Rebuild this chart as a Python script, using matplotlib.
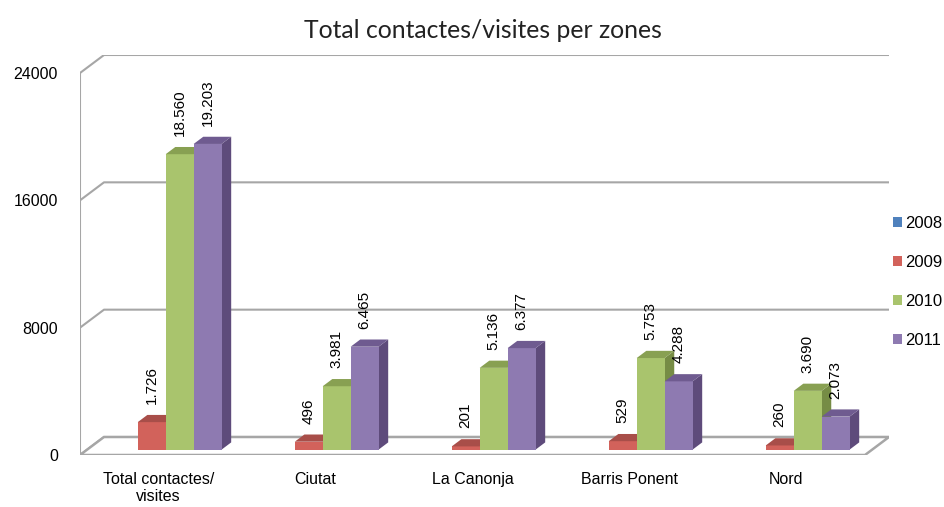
import matplotlib
matplotlib.use("Agg")
import matplotlib.pyplot as plt
from matplotlib.patches import Polygon, Patch

# ----------- DATA ----------- #
zones = ['Total contactes/\nvisites', 'Ciutat', 'La Canonja', 'Barris Ponent', 'Nord']
years = ['2008', '2009', '2010', '2011']
v2008 = [0, 0, 0, 0, 0]
v2009 = [1726, 496, 201, 529, 260]
v2010 = [18560, 3981, 5136, 5753, 3690]
v2011 = [19203, 6465, 6377, 4288, 2073]
series = [v2008, v2009, v2010, v2011]
yticks = [0, 8000, 16000, 24000]

# front / top / side shades per year
front = ['#4F81BD', '#D2625B', '#A9C46D', '#8E7AB1']
top = ['#3C6494', '#A84E49', '#88A052', '#6F5B90']
side = ['#34577F', '#8E3F3B', '#768C45', '#5E4B7B']

plt.rcParams['font.family'] = ['Liberation Sans', 'DejaVu Sans']
grid_col = '#A6A6A6'

# ----------- FAKE 3D GEOMETRY ----------- #
ymax = 24000
ddx = 24 / 157.0          # depth shift in category units
ddy = 18 * ymax / 382.0   # depth shift in value units
w = 0.178                 # bar width
f0, bd = 0.3, 0.4         # bar front depth and bar depth (fractions)

W, H = 944, 507
fig = plt.figure(figsize=(W / 100, H / 100), dpi=100)
ax = fig.add_axes([80 / W, (H - 455) / H,
                   785 / W * (5 + ddx) / 5,
                   382 / H * (ymax + ddy) / ymax])
ax.set_xlim(-0.5, 4.5 + ddx)
ax.set_ylim(0, ymax + ddy)
ax.patch.set_visible(False)

# walls + gridlines
x0 = -0.5
for v in yticks:
    ax.plot([x0, x0 + ddx, 4.5 + ddx], [v, v + ddy, v + ddy],
            color=grid_col, lw=1.5, zorder=1, solid_capstyle='butt')
# floor
ax.add_patch(Polygon([(x0, 0), (4.5, 0), (4.5 + ddx, ddy), (x0 + ddx, ddy)],
                     closed=True, facecolor='white', edgecolor=grid_col,
                     lw=1.8, zorder=2))
ax.plot([x0, x0], [0, ymax], color=grid_col, lw=1.5, zorder=2)

# bars
z = 3
base = f0 * ddy
for c in range(len(zones)):
    for i, vals in enumerate(series):
        v = vals[c]
        if v <= 0:
            continue
        xl = c + (i - 2) * w + f0 * ddx
        xr = xl + w
        sx, sy = bd * ddx, bd * ddy
        ax.add_patch(Polygon([(xr, base), (xr, base + v), (xr + sx, base + v + sy),
                              (xr + sx, base + sy)], closed=True,
                             facecolor=side[i], edgecolor='none', zorder=z))
        ax.add_patch(Polygon([(xl, base), (xr, base), (xr, base + v), (xl, base + v)],
                             closed=True, facecolor=front[i], edgecolor='none',
                             zorder=z + 1))
        ax.add_patch(Polygon([(xl, base + v), (xr, base + v), (xr + sx, base + v + sy),
                              (xl + sx, base + v + sy)], closed=True,
                             facecolor=top[i], edgecolor='none', zorder=z + 1))
        ax.annotate(f"{v:,}".replace(',', '.'), (xl + w / 2, base + v),
                    xytext=(0, 13), textcoords='offset points',
                    rotation=90, ha='center', va='bottom', fontsize=11,
                    color='black', zorder=50)
        z += 2

# axes, ticks
for s in ['top', 'right', 'bottom', 'left']:
    ax.spines[s].set_visible(False)
ax.set_yticks(yticks)
ax.set_yticklabels([str(t) for t in yticks], fontsize=11.5)
ax.set_xticks(range(len(zones)))
ax.set_xticklabels(zones, fontsize=11.5)
ax.tick_params(axis='y', length=0, pad=16)
ax.tick_params(axis='x', length=0, pad=12)

handles = [Patch(facecolor=front[i], edgecolor='none') for i in range(4)]
fig.legend(handles, years, loc='center left',
           bbox_to_anchor=(893 / W, 1 - 282 / H), frameon=False,
           fontsize=12, handlelength=0.55, handleheight=0.55,
           handletextpad=0.2, labelspacing=1.45, borderpad=0, borderaxespad=0)

fig.text(483 / W, 1 - 30 / H, "Total contactes/visites per zones",
         ha='center', va='center', fontsize=17.8, color='#222222',
         family=['Lato', 'DejaVu Sans'])

fig.savefig('out.png', dpi=100)
